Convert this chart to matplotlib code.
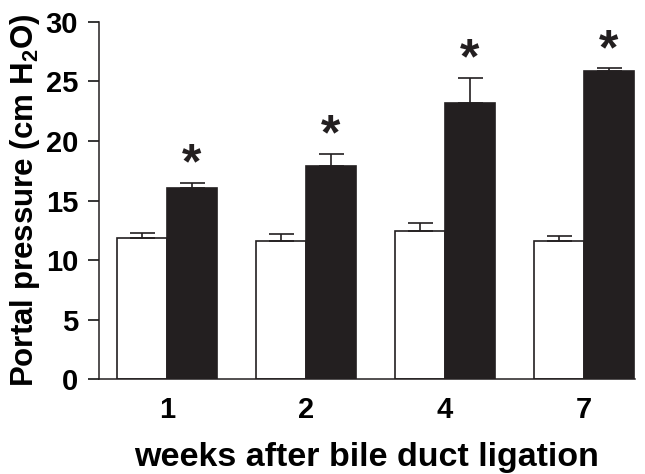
import matplotlib
matplotlib.use("Agg")
import matplotlib.pyplot as plt
import numpy as np

plt.rcParams['font.family'] = ['Liberation Sans', 'DejaVu Sans']
plt.rcParams['font.weight'] = 'bold'
plt.rcParams['mathtext.fontset'] = 'custom'
plt.rcParams['mathtext.rm'] = 'Liberation Sans:bold'
plt.rcParams['mathtext.bf'] = 'Liberation Sans:bold'
plt.rcParams['mathtext.it'] = 'Liberation Sans:bold'
plt.rcParams['mathtext.default'] = 'rm'

weeks = ['1', '2', '4', '7']
control = [11.85, 11.6, 12.4, 11.6]
control_err = [0.4, 0.6, 0.7, 0.4]
bdl = [16.05, 17.9, 23.2, 25.9]
bdl_err = [0.45, 1.0, 2.1, 0.2]

fig = plt.figure(figsize=(6.45, 4.74), dpi=100)
ax = fig.add_axes([0.1535, 0.2004, 0.8305, 0.7532])

x = np.arange(len(weeks))
w = 0.36
ax.bar(x - w/2, control, width=w, color='white', edgecolor='#231f20', linewidth=1.2,
       yerr=[np.zeros(len(x)), control_err], error_kw=dict(ecolor='#231f20', elinewidth=1.2, capsize=9, capthick=1.2))
ax.bar(x + w/2, bdl, width=w, color='#231f20', edgecolor='#231f20', linewidth=1.2,
       yerr=[np.zeros(len(x)), bdl_err], error_kw=dict(ecolor='#231f20', elinewidth=1.2, capsize=9, capthick=1.2))

for xi, v, e in zip(x, bdl, bdl_err):
    ax.annotate('*', xy=(xi + w/2, v + e), xytext=(0, -4), textcoords='offset points',
                ha='center', va='bottom', fontsize=36, fontweight='bold', color='#231f20')

ax.set_xlim(-0.489, 3.367)
ax.set_ylim(0, 30)
ax.set_yticks(np.arange(0, 31, 5))
ax.set_xticks(x)
ax.set_xticklabels(weeks)
ax.tick_params(axis='x', length=0, pad=12, labelsize=21)
ax.tick_params(axis='y', length=8, width=1.1, pad=7, labelsize=21, direction='out')
for lab in ax.get_xticklabels() + ax.get_yticklabels():
    lab.set_fontweight('bold')
ax.spines['top'].set_visible(False)
ax.spines['right'].set_visible(False)
ax.spines['left'].set_linewidth(1.1)
ax.spines['bottom'].set_linewidth(1.1)
ax.spines['left'].set_color('#231f20')
ax.spines['bottom'].set_color('#231f20')

ax.set_ylabel(r'Portal pressure (cm H$_{2}$O)', fontsize=22.5, fontweight='bold', labelpad=3)
ax.set_xlabel('weeks after bile duct ligation', fontsize=24.5, fontweight='bold', labelpad=13)

fig.savefig('out.png', dpi=100)
